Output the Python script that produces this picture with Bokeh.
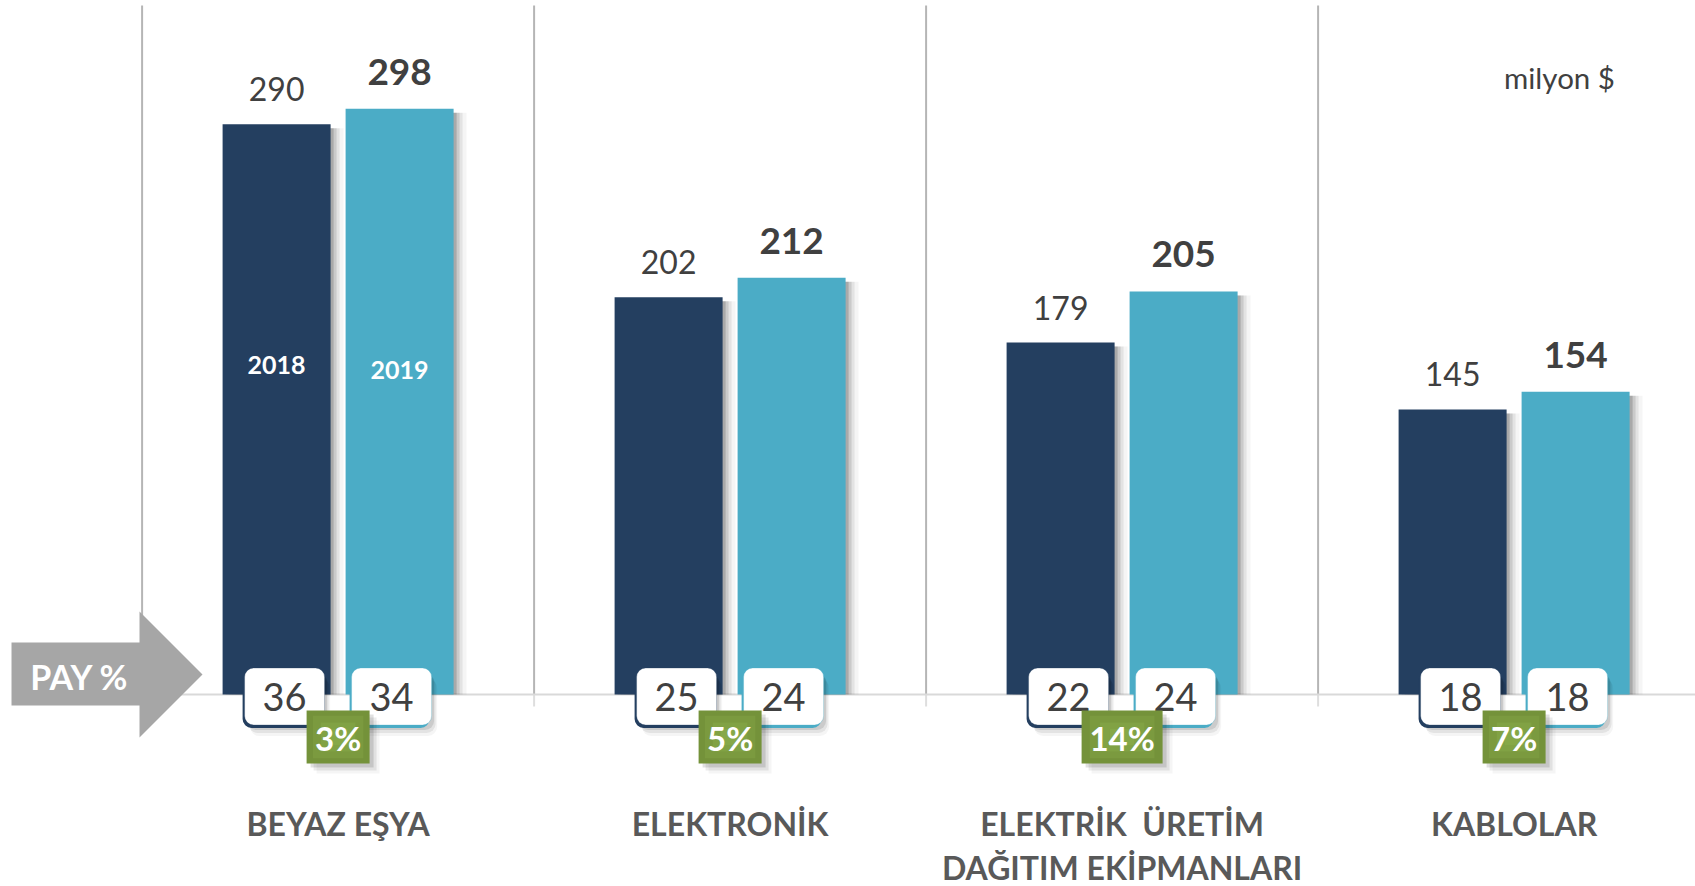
from bokeh.plotting import figure
from bokeh.models import Range1d
from bokeh.core.properties import value
from bokeh.embed import file_html
from bokeh.resources import INLINE

# ---------------- data ----------------
categories = ["BEYAZ EŞYA", "ELEKTRONİK", "ELEKTRİK  ÜRETİM\nDAĞITIM EKİPMANLARI", "KABLOLAR"]
years = ["2018", "2019"]
values_2018 = [290, 202, 179, 145]
values_2019 = [298, 212, 205, 154]
share_2018 = [36, 25, 22, 18]
share_2019 = [34, 24, 24, 18]
growth = ["3%", "5%", "14%", "7%"]
unit_label = "milyon $"
share_label = "PAY %"

# ---------------- styling / layout ----------------
C2018 = "#243F60"
C2019 = "#4BACC6"
GREEN = "#74923A"
TXT = "#404040"
CAT_TXT = "#595959"
FONT = "Lato"

W, H = 1695, 886
PX_PER_CAT = 392.0      # pixels per category slot
X_ORIGIN = 141.6        # pixel of the first category boundary
PX_PER_UNIT = 1.966     # pixels per million $
Y_BASE = 694.0          # pixel of the zero line


def fx(px):
    return (px - X_ORIGIN) / PX_PER_CAT


def fy(py):
    return (Y_BASE - py) / PX_PER_UNIT


def dx(px):
    return px / PX_PER_CAT


def dy(px):
    return px / PX_PER_UNIT


p = figure(width=W, height=H,
           x_range=Range1d(fx(0), fx(W)), y_range=Range1d(fy(H), fy(0)),
           output_backend="svg", toolbar_location=None, min_border=0,
           x_axis_type=None, y_axis_type=None)
p.grid.visible = False
p.outline_line_color = None
p.background_fill_color = "white"

n = len(categories)
centers = [i + 0.5 for i in range(n)]
bw = dx(108)
x18 = [c - dx(61.5) for c in centers]
x19 = [c + dx(61.5) for c in centers]

# separators
seps = list(range(n))
p.segment(x0=seps, y0=[fy(5)] * n, x1=seps, y1=[0] * n, line_color="#B5B5B5", line_width=2)
p.segment(x0=seps, y0=[0] * n, x1=seps, y1=[fy(706)] * n, line_color="#DEDEDE", line_width=2)
# baseline
p.segment(x0=[0], y0=[0], x1=[fx(W)], y1=[0], line_color="#D9D9D9", line_width=2)

# bar shadows
for off, a in [(3, 0.16), (6, 0.11), (9, 0.07), (13, 0.04)]:
    p.vbar(x=[x + dx(off) for x in x18 + x19],
           top=[v - dy(4) for v in values_2018 + values_2019],
           bottom=0, width=bw, fill_color="black", fill_alpha=a, line_color=None)

# bars
p.vbar(x=x18, top=values_2018, bottom=0, width=bw, fill_color=C2018, line_color=None)
p.vbar(x=x19, top=values_2019, bottom=0, width=bw, fill_color=C2019, line_color=None)

# value labels
p.text(x=x18, y=values_2018, text=[str(v) for v in values_2018],
       text_font=value(FONT), text_font_size="32px", text_color=TXT,
       text_align="center", text_baseline="middle", y_offset=-35)
p.text(x=x19, y=values_2019, text=[str(v) for v in values_2019],
       text_font=value(FONT), text_font_size="37px", text_font_style="bold",
       text_color=TXT, text_align="center", text_baseline="middle", y_offset=-37)

# year labels inside first group
p.text(x=[x18[0]], y=[fy(364)], text=[years[0]], text_font=value(FONT),
       text_font_size="25px", text_font_style="bold", text_color="white",
       text_align="center", text_baseline="middle")
p.text(x=[x19[0]], y=[fy(369)], text=[years[1]], text_font=value(FONT),
       text_font_size="25px", text_font_style="bold", text_color="white",
       text_align="center", text_baseline="middle")

# share boxes
by = fy(696)
bx18 = [x + dx(8) for x in x18]
bx19 = [x - dx(8) for x in x19]
for xs, col, shares in [(bx18, C2018, share_2018), (bx19, C2019, share_2019)]:
    for off, a in [(5, 0.10), (8, 0.07), (11, 0.04)]:
        p.rect(x=[x + dx(off * 0.5) for x in xs], y=[by - dy(off)] * n, width=80, height=57,
               width_units="screen", height_units="screen", border_radius=9,
               fill_color="black", fill_alpha=a, line_color=None)
    p.rect(x=[x - dx(2) for x in xs], y=[by - dy(3)] * n, width=80, height=57,
           width_units="screen", height_units="screen", border_radius=9,
           fill_color=col, line_color=None)
    p.rect(x=xs, y=[by] * n, width=80, height=57,
           width_units="screen", height_units="screen", border_radius=9,
           fill_color="white", line_color=col, line_alpha=0.3, line_width=1)
    p.text(x=xs, y=[by] * n, text=[str(s) for s in shares], text_font=value(FONT),
           text_font_size="38px", text_color=TXT, text_align="center",
           text_baseline="middle", y_offset=0)

# growth boxes
gy = fy(736.5)
gw = [18 * len(g) + 27 for g in growth]
for off, a in [(4, 0.12), (7, 0.08), (10, 0.04)]:
    p.rect(x=[c + dx(off) for c in centers], y=[gy - dy(off)] * n, width=gw, height=53,
           width_units="screen", height_units="screen", fill_color="black",
           fill_alpha=a, line_color=None)
p.rect(x=centers, y=[gy] * n, width=gw, height=53, width_units="screen",
       height_units="screen", fill_color=GREEN, line_color=None)
for s, a in [(0.8, 0.18), (0.55, 0.2), (0.3, 0.2)]:
    p.rect(x=centers, y=[gy] * n, width=[w * s for w in gw], height=53 * s,
           width_units="screen", height_units="screen", fill_color="#9CC25A",
           fill_alpha=a, line_color=None)
p.text(x=centers, y=[gy] * n, text=growth, text_font=value(FONT), text_font_size="33px",
       text_font_style="bold", text_color="white", text_align="center",
       text_baseline="middle", y_offset=1)

# PAY % arrow
arrow_px = [(11, 642), (139, 642), (139, 611), (202, 674), (139, 737), (139, 705), (11, 705)]
p.patch(x=[fx(a) for a, b in arrow_px], y=[fy(b) for a, b in arrow_px],
        fill_color="#A6A6A6", line_color=None)
p.text(x=[fx(79)], y=[fy(676)], text=[share_label], text_font=value(FONT),
       text_font_size="34px", text_font_style="bold", text_color="white",
       text_align="center", text_baseline="middle")

# unit label
p.text(x=[fx(1559)], y=[fy(77)], text=[unit_label], text_font=value(FONT),
       text_font_size="29.5px", text_color=TXT, text_align="center", text_baseline="middle")

# category labels
line1 = [c.split("\n")[0].replace("  ", " \u00a0") for c in categories]
line2 = [c.split("\n")[1] if "\n" in c else "" for c in categories]
p.text(x=centers, y=[fy(823)] * n, text=line1, text_font=value(FONT), text_font_size="32px",
       text_font_style="bold", text_color=CAT_TXT, text_align="center", text_baseline="middle")
p.text(x=centers, y=[fy(867)] * n, text=line2, text_font=value(FONT), text_font_size="32px",
       text_font_style="bold", text_color=CAT_TXT, text_align="center", text_baseline="middle")

open("out.html", "w").write(file_html(p, INLINE))
